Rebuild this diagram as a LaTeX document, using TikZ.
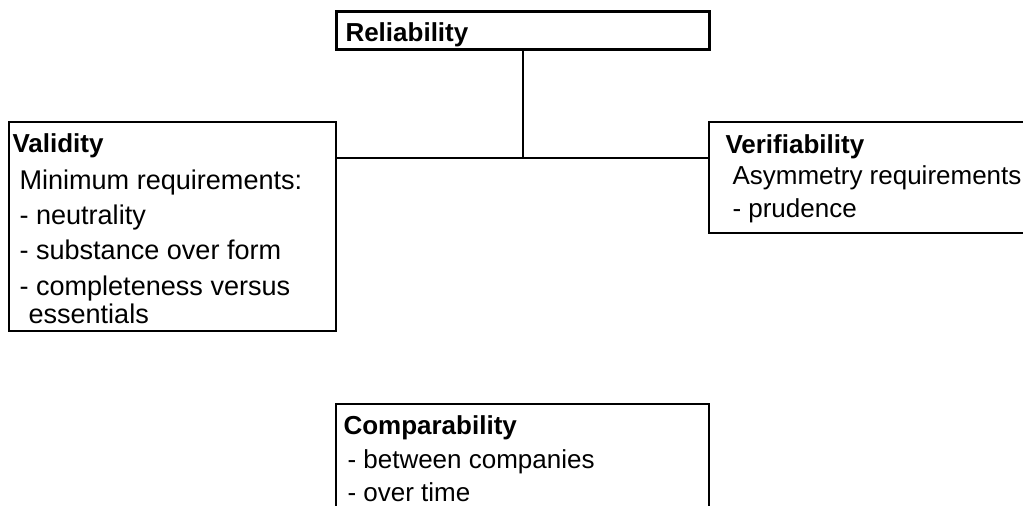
\documentclass[tikz,border=0pt]{standalone}
\usepackage{fontspec}
\setmainfont{Liberation Sans}
\begin{document}
\tikzset{every picture/.style={line width=0.75pt}}
\tikzset{
  box/.style={draw, line width=1.5pt, rectangle, anchor=north west, inner sep=0pt},
  boxtitle/.style={anchor=base west, inner sep=0pt, font=\fontsize{19.5}{25}\selectfont\bfseries},
  boxtext/.style={anchor=base west, align=left, inner sep=0pt, font=\fontsize{19.5}{24.75}\selectfont},
}
\begin{tikzpicture}[x=0.75pt,y=0.75pt,yscale=-1,xscale=1]
	\useasboundingbox (0,0) rectangle (1023,506);
	\clip (0,0) rectangle (1023,506);

	%Shape: Rectangle [Reliability]
	\node[box, line width=2.25pt, minimum width=279.75pt, minimum height=28.5pt] (rel) at (335,10) {};
	%Shape: Rectangle [Validity]
	\node[box, minimum width=245.25pt, minimum height=156.75pt] (val) at (8,121) {};
	%Shape: Rectangle [Verifiability]
	\node[box, minimum width=255pt, minimum height=83.25pt] (ver) at (708,121) {};
	%Shape: Rectangle [Comparability]
	\node[box, minimum width=279.75pt, minimum height=90pt] (com) at (335,403) {};

	%Straight Lines
	\coordinate (hub) at (rel.south |- 0,158);
	\draw [line width=1.5pt] (rel.south) -- (hub) ;
	\draw [line width=1.5pt] (val.east |- hub) -- (ver.west |- hub) ;

	% Text Node (base = last line)
	\node[boxtitle] (reltitle) at (345,42) {Reliability};
	% Text Node
	\node[boxtitle] (valtitle) at (12,152) {Validity};
	\node[boxtext, font=\fontsize{20.3}{26.5}\selectfont] (valbody) at (19,323) {Minimum requirements:\\ - neutrality\\ - substance over form\\ - completeness versus\\[-5.5pt] \hspace*{6.75pt}essentials};
	% Text Node
	\node[boxtitle] (vertitle) at (725,153) {Verifiability};
	\node[boxtext] (verbody) at (732,217) {Asymmetry requirements:\\ - prudence};
	% Text Node
	\node[boxtitle] (comtitle) at (343,434) {Comparability};
	\node[boxtext] (combody) at (347,501) {- between companies\\ - over time};

\end{tikzpicture}
\end{document}
